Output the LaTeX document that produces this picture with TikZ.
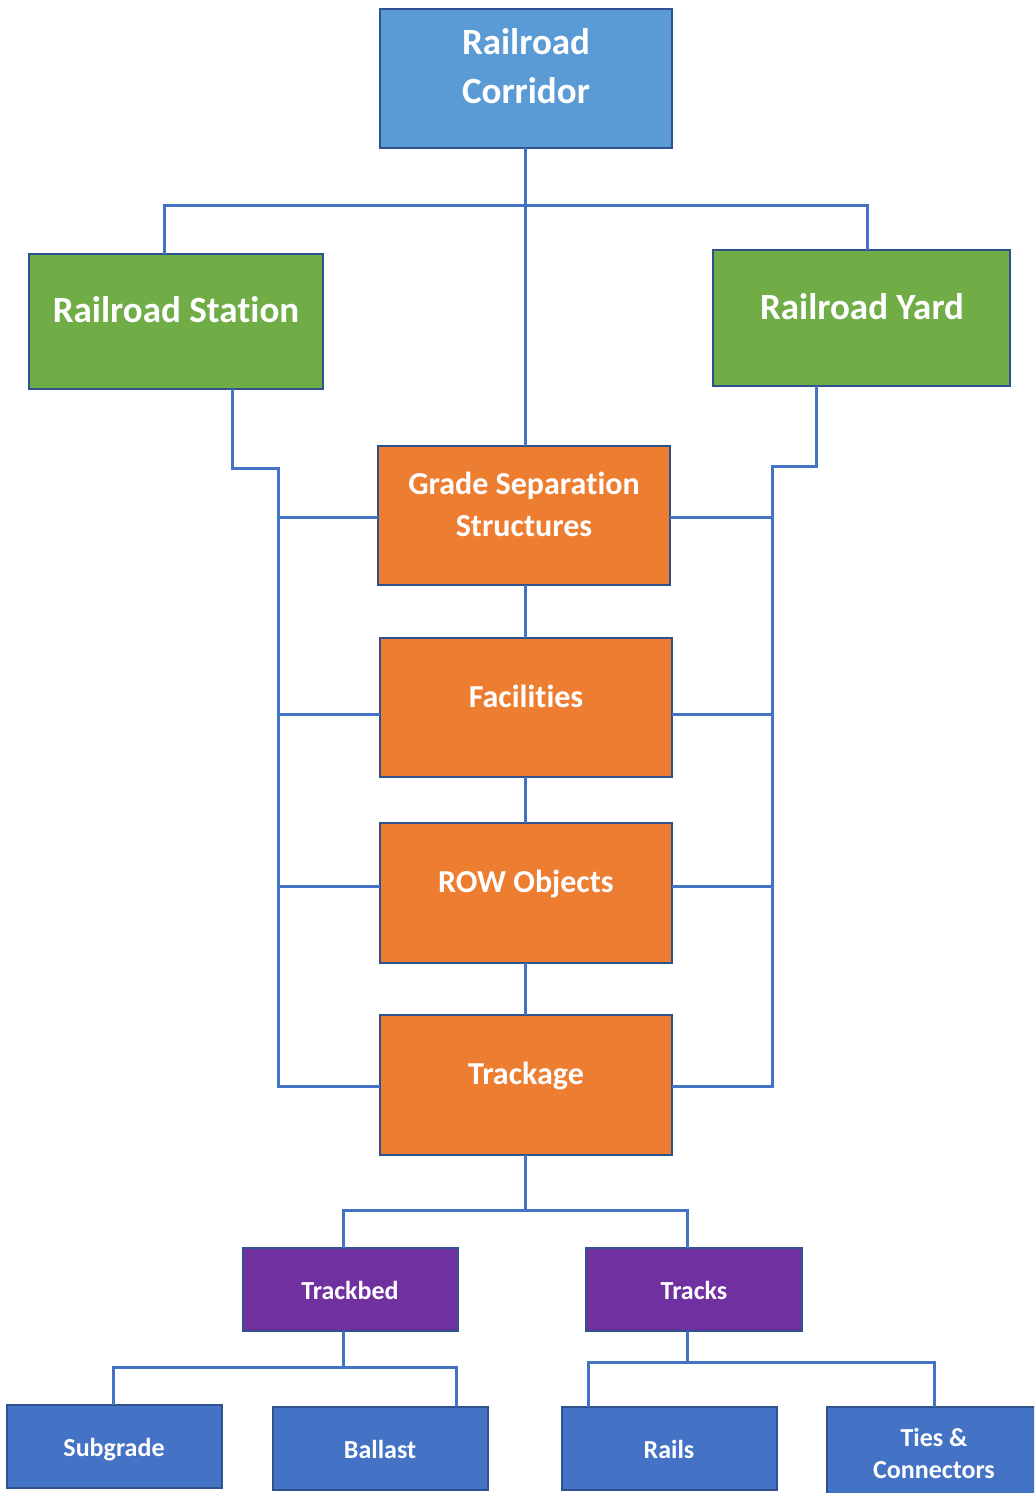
\documentclass[tikz,border=0pt]{standalone}
\usepackage{fontspec}
\setmainfont{Carlito}[Ligatures={NoCommon,NoRequired,NoContextual,NoRare},Contextuals=NoAlternate]
\usetikzlibrary{calc}

\definecolor{edgeblue}{HTML}{2F528F}
\definecolor{wireblue}{HTML}{4472C4}
\definecolor{skyblue}{HTML}{5B9BD5}
\definecolor{leafgreen}{HTML}{70AD47}
\definecolor{rustorange}{HTML}{ED7D31}
\definecolor{royalpurple}{HTML}{7030A0}
\definecolor{deepblue}{HTML}{4472C4}

\begin{document}
\begin{tikzpicture}[x=1pt,y=-1pt,
  box/.style={draw=edgeblue, line width=2.5pt, anchor=north west, inner sep=0pt, outer sep=0pt},
  wire/.style={draw=wireblue, line width=3pt, line join=miter},
  txt/.style={text=white, anchor=base, inner sep=0pt, font=\bfseries},
  bigtxt/.style={txt, font=\fontsize{37}{44}\selectfont\bfseries},
  midtxt/.style={txt, font=\fontsize{32}{38}\selectfont\bfseries},
  smalltxt/.style={txt, font=\fontsize{26}{31}\selectfont\bfseries}]
\useasboundingbox (0,0) rectangle (1034,1493);
\clip (0,0) rectangle (1034,1493);

% ---- boxes ----
\node[box, fill=skyblue, minimum width=292pt, minimum height=139pt] (corridor) at (380,9) {};
\node[box, fill=leafgreen, minimum width=294pt, minimum height=135pt] (station) at (29,254) {};
\node[box, fill=leafgreen, minimum width=297pt, minimum height=136pt] (yard) at (713,250) {};
\node[box, fill=rustorange, minimum width=292pt, minimum height=139pt] (grade) at (378,446) {};
\node[box, fill=rustorange, minimum width=292pt, minimum height=139pt] (facil) at (380,638) {};
\node[box, fill=rustorange, minimum width=292pt, minimum height=140pt] (row) at (380,823) {};
\node[box, fill=rustorange, minimum width=292pt, minimum height=140pt] (trackage) at (380,1015) {};
\node[box, fill=royalpurple, minimum width=215pt, minimum height=83pt] (trackbed) at (243,1248) {};
\node[box, fill=royalpurple, minimum width=216pt, minimum height=83pt] (tracks) at (586,1248) {};
\node[box, fill=deepblue, minimum width=215pt, minimum height=83pt] (subgrade) at (7,1405) {};
\node[box, fill=deepblue, minimum width=215pt, minimum height=83pt] (ballast) at (273,1407) {};
\node[box, fill=deepblue, minimum width=215pt, minimum height=83pt] (rails) at (562,1407) {};
\node[box, fill=deepblue, minimum width=215pt, minimum height=90pt] (ties) at (827,1407) {};

% ---- labels ----
\node[bigtxt] (corridorA) at (526,55) {Railroad};
\node[bigtxt] (corridorB) at (526,104) {Corridor};
\node[bigtxt] (stationT) at (176,322) {Railroad Sta\kern0pt tion};
\node[bigtxt] (yardT) at (862,319) {Railroad Yard};
\node[midtxt] (gradeA) at (524,494) {Grade Separa\kern0pt tion};
\node[midtxt] (gradeB) at (524,536) {Structures};
\node[midtxt] (facilT) at (526,707) {Facili\kern0pt ties};
\node[midtxt] (rowT) at (526,892) {ROW Objects};
\node[midtxt] (trackageT) at (526,1084) {Trackage};
\node[smalltxt] (trackbedT) at (350,1299) {Trackbed};
\node[smalltxt] (tracksT) at (694,1299) {Tracks};
\node[smalltxt] (subgradeT) at (114,1456) {Subgrade};
\node[smalltxt] (ballastT) at (380,1458) {Ballast};
\node[smalltxt] (railsT) at (669,1458) {Rails};
\node[smalltxt] (tiesA) at (934,1446) {Ties \&};
\node[smalltxt] (tiesB) at (934,1478) {Connectors};

% ---- junction points ----
\coordinate (topbus) at (525,205);
\coordinate (busL) at (164,205);
\coordinate (busR) at (867,205);
\coordinate (sdrop) at (232,468);
\coordinate (strunk) at (278,468);
\coordinate (ydrop) at (816,466);
\coordinate (ytrunk) at (772,466);
\coordinate (lvA) at (0,517);
\coordinate (lvB) at (0,714);
\coordinate (lvC) at (0,886);
\coordinate (lvD) at (0,1086);
\coordinate (midbus) at (525,1210);
\coordinate (mbL) at (343,1210);
\coordinate (mbR) at (687,1210);
\coordinate (lowL) at (343,1367);
\coordinate (lowLa) at (113,1367);
\coordinate (lowLb) at (456,1367);
\coordinate (lowR) at (687,1362);
\coordinate (lowRa) at (588,1362);
\coordinate (lowRb) at (934,1362);

% ---- connectors ----
% corridor to the column and the two side branches
\draw[wire] (corridor.south -| topbus) -- (grade.north -| topbus);
\draw[wire] (station.north -| busL) -- (busL) -- (busR) -- (yard.north -| busR);

% central column
\draw[wire] (grade.south -| topbus) -- (facil.north -| topbus);
\draw[wire] (facil.south -| topbus) -- (row.north -| topbus);
\draw[wire] (row.south -| topbus) -- (trackage.north -| topbus);

% station feeder
\draw[wire] (station.south -| sdrop) -- (sdrop) -- (strunk) -- (strunk |- lvD) -- (trackage.west |- lvD);
\draw[wire] (strunk |- lvA) -- (grade.west |- lvA);
\draw[wire] (strunk |- lvB) -- (facil.west |- lvB);
\draw[wire] (strunk |- lvC) -- (row.west |- lvC);

% yard feeder
\draw[wire] (yard.south -| ydrop) -- (ydrop) -- (ytrunk) -- (ytrunk |- lvD) -- (trackage.east |- lvD);
\draw[wire] (ytrunk |- lvA) -- (grade.east |- lvA);
\draw[wire] (ytrunk |- lvB) -- (facil.east |- lvB);
\draw[wire] (ytrunk |- lvC) -- (row.east |- lvC);

% trackage split
\draw[wire] (trackage.south -| midbus) -- (midbus);
\draw[wire] (trackbed.north -| mbL) -- (mbL) -- (mbR) -- (tracks.north -| mbR);

% trackbed split
\draw[wire] (trackbed.south -| lowL) -- (lowL);
\draw[wire] (subgrade.north -| lowLa) -- (lowLa) -- (lowLb) -- (ballast.north -| lowLb);

% tracks split
\draw[wire] (tracks.south -| lowR) -- (lowR);
\draw[wire] (rails.north -| lowRa) -- (lowRa) -- (lowRb) -- (ties.north -| lowRb);
\end{tikzpicture}
\end{document}
